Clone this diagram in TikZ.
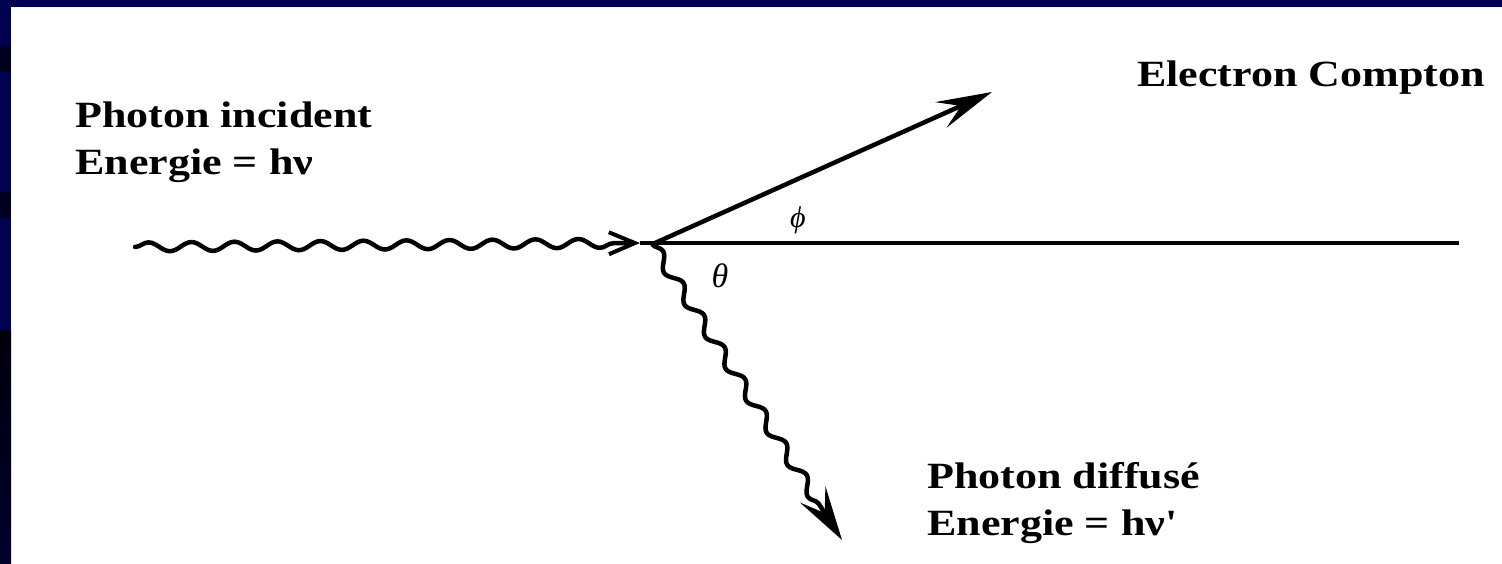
\documentclass[tikz,border=0pt]{standalone}
\usepackage{fontspec}
\setmainfont{Liberation Serif}
\newfontfamily\lblfont[FakeStretch=1.19]{Liberation Serif}
\newfontfamily\grkfont{Liberation Serif}
\usetikzlibrary{arrows.meta,decorations.pathmorphing}
\definecolor{navy}{RGB}{0,0,80}
\definecolor{navydark}{RGB}{0,0,30}
\definecolor{navyblack}{RGB}{0,0,12}
\tikzset{
  lbl/.style={inner sep=0pt, font=\lblfont\bfseries\fontsize{37}{44}\selectfont},
  ang/.style={inner sep=0pt, font=\grkfont\itshape\fontsize{34}{38}\selectfont},
  wave/.style={line width=4.5pt, line join=round, line cap=round, decorate,
    decoration={snake, segment length=43pt, amplitude=4.5pt, post length=22pt}},
  wavetwo/.style={line width=4.5pt, line join=round, decorate,
    decoration={snake, segment length=38pt, amplitude=5.5pt, post length=42pt}},
  ray/.style={line width=4.5pt},
}
\begin{document}
\begin{tikzpicture}[x=1pt,y=-1pt]
\useasboundingbox (0,0) rectangle (1502,564);
% background frame
\fill[white] (0,0) rectangle (1502,564);
\fill[navy] (0,0) rectangle (1502,7.5);
\fill[navy] (0,0) rectangle (11,330);
\fill[navydark] (0,45) rectangle (11,72);
\fill[navydark] (0,192) rectangle (11,218);
\shade[top color=navyblack, bottom color={rgb,255:red,0;green,0;blue,45}] (0,330) rectangle (11,564);
% coordinates
\coordinate (A) at (135,247);
\coordinate (T) at (640,243);
\coordinate (O) at (655,243);
\coordinate (E) at (1459,243);
\coordinate (Ce) at (992,92);
\coordinate (Os) at (652,244);
\coordinate (Pd) at (842,540);
% incident photon
\draw[wave, -{Straight Barb[length=26pt,width=22pt,line width=4pt]}] (A) -- (T);
% horizontal reference
\draw[ray] (T) -- (E);
% Compton electron
\draw[line width=4.5pt, -{Stealth[length=56pt,width=28pt,inset=22pt]}] (O) -- (Ce);
% scattered photon
\draw[wavetwo, -{Stealth[length=54pt,width=30pt,inset=22pt]}] (Os) -- (Pd);
% labels
\node[lbl, anchor=base west] (inc1) at (75,128) {Photon incident};
\node[lbl, anchor=base west] (inc2) at (75,175) {Energie = hν};
\node[lbl, anchor=base east] (el) at (1485,87) {Electron Compton};
\node[lbl, anchor=base west] (dif1) at (927,488) {Photon diffusé};
\node[lbl, anchor=base west] (dif2) at (927,535) {Energie = hν\textquotesingle};
\node[ang] (th) at (720,276) {θ};
\node[ang, font=\grkfont\itshape\fontsize{30}{34}\selectfont] (ph) at (798,220) {ϕ};
\end{tikzpicture}
\end{document}
